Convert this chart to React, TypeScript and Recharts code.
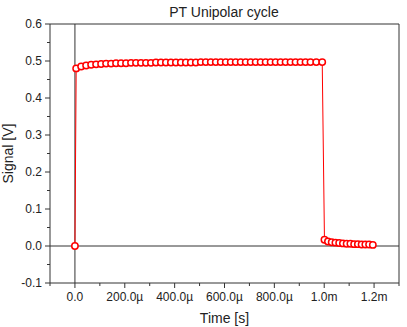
import { LineChart, Line, XAxis, YAxis, ReferenceLine } from 'recharts';

// time in microseconds
const timeUs = [
  0, 5, 25, 45, 65, 85, 105, 125, 145, 165, 185, 205, 225, 245, 265, 285, 305, 325, 345, 365, 385,
  405, 425, 445, 465, 485, 505, 525, 545, 565, 585, 605, 625, 645, 665, 685, 705, 725, 745, 765, 785,
  805, 825, 845, 865, 885, 905, 925, 945, 968, 992,
  1001, 1015, 1030, 1045, 1060, 1075, 1090, 1105, 1120, 1135, 1150, 1165, 1180, 1195,
];

const signal = [
  0, 0.48, 0.485, 0.488, 0.49, 0.491, 0.492, 0.493, 0.493, 0.494, 0.494,
  0.494, 0.495, 0.495, 0.495, 0.495, 0.495, 0.496, 0.496, 0.496, 0.496,
  0.496, 0.496, 0.496, 0.496, 0.496, 0.497, 0.497, 0.497, 0.497, 0.497,
  0.497, 0.497, 0.497, 0.497, 0.497, 0.497, 0.497, 0.497, 0.497, 0.497,
  0.497, 0.497, 0.497, 0.497, 0.497, 0.497, 0.497, 0.497, 0.497, 0.497,
  0.017, 0.012, 0.01, 0.009, 0.008, 0.007, 0.006, 0.006, 0.005, 0.005, 0.004, 0.004, 0.004, 0.003,
];

const xTicks = [-100, 0, 100, 200, 300, 400, 500, 600, 700, 800, 900, 1000, 1100, 1200, 1300];
const yTicks = [-0.1, -0.05, 0, 0.05, 0.1, 0.15, 0.2, 0.25, 0.3, 0.35, 0.4, 0.45, 0.5, 0.55, 0.6];

const data = timeUs.map((t, i) => ({ t, v: signal[i] }));

const FONT = '"Liberation Sans", Arial, sans-serif';
const AXIS = '#333';

const fmtX = (v: number) => {
  if (v === 0) return '0.0';
  if (v < 1000) return `${v.toFixed(1)}µ`;
  return `${(v / 1000).toFixed(1)}m`;
};

const XTick = ({ x, y, payload }: any) => {
  const v = payload.value as number;
  const major = Math.round(v / 100) % 2 === 0;
  const showLabel = major && v >= 0 && v <= 1200;
  return (
    <g>
      <line x1={x} y1={y} x2={x} y2={y + (major ? 5 : 3)} stroke={AXIS} />
      {showLabel && (
        <text x={x} y={y + 18} textAnchor="middle" fontSize={12} fill="#222" fontFamily={FONT}>
          {fmtX(v)}
        </text>
      )}
    </g>
  );
};

const YTick = ({ x, y, payload }: any) => {
  const v = payload.value as number;
  const major = Math.round(v * 100) % 10 === 0;
  return (
    <g>
      <line x1={x} y1={y} x2={x - (major ? 5 : 3)} y2={y} stroke={AXIS} />
      {major && (
        <text x={x - 8} y={y + 4} textAnchor="end" fontSize={12} fill="#222" fontFamily={FONT}>
          {v.toFixed(1)}
        </text>
      )}
    </g>
  );
};

export default function App() {
  return (
    <div style={{ position: 'absolute', left: 0, top: 0, width: 407, height: 327, background: '#fff' }}>
      <LineChart width={407} height={327} data={data} margin={{ top: 24, right: 8, bottom: 0, left: 0 }}>
        <text x={224} y={17} textAnchor="middle" fontSize={14} fill="#222" fontFamily={FONT}>
          PT Unipolar cycle
        </text>
        <XAxis
          dataKey="t"
          type="number"
          domain={[-100, 1300]}
          ticks={xTicks}
          interval={0}
          allowDataOverflow
          height={44}
          stroke={AXIS}
          tickLine={false}
          tickSize={0}
          tickMargin={0}
          tick={XTick}
          label={{ value: 'Time [s]', position: 'insideBottom', offset: 4, fontSize: 14, fill: '#222', fontFamily: FONT }}
        />
        <YAxis
          type="number"
          domain={[-0.1, 0.6]}
          ticks={yTicks}
          interval={0}
          allowDataOverflow
          width={50}
          stroke={AXIS}
          tickLine={false}
          tickSize={0}
          tickMargin={0}
          tick={YTick}
          label={{ value: 'Signal [V]', angle: -90, position: 'insideLeft', offset: 8, fontSize: 14, fill: '#222', fontFamily: FONT, style: { textAnchor: 'middle' } }}
        />
        <ReferenceLine y={0.6} stroke={AXIS} />
        <ReferenceLine x={1300} stroke={AXIS} />
        <ReferenceLine y={0} stroke={AXIS} />
        <ReferenceLine x={0} stroke={AXIS} />
        <Line
          type="linear"
          dataKey="v"
          stroke="#ff0000"
          strokeWidth={1}
          dot={{ r: 3.2, stroke: '#ff0000', strokeWidth: 1.5, fill: '#fff' }}
          isAnimationActive={false}
        />
      </LineChart>
    </div>
  );
}
